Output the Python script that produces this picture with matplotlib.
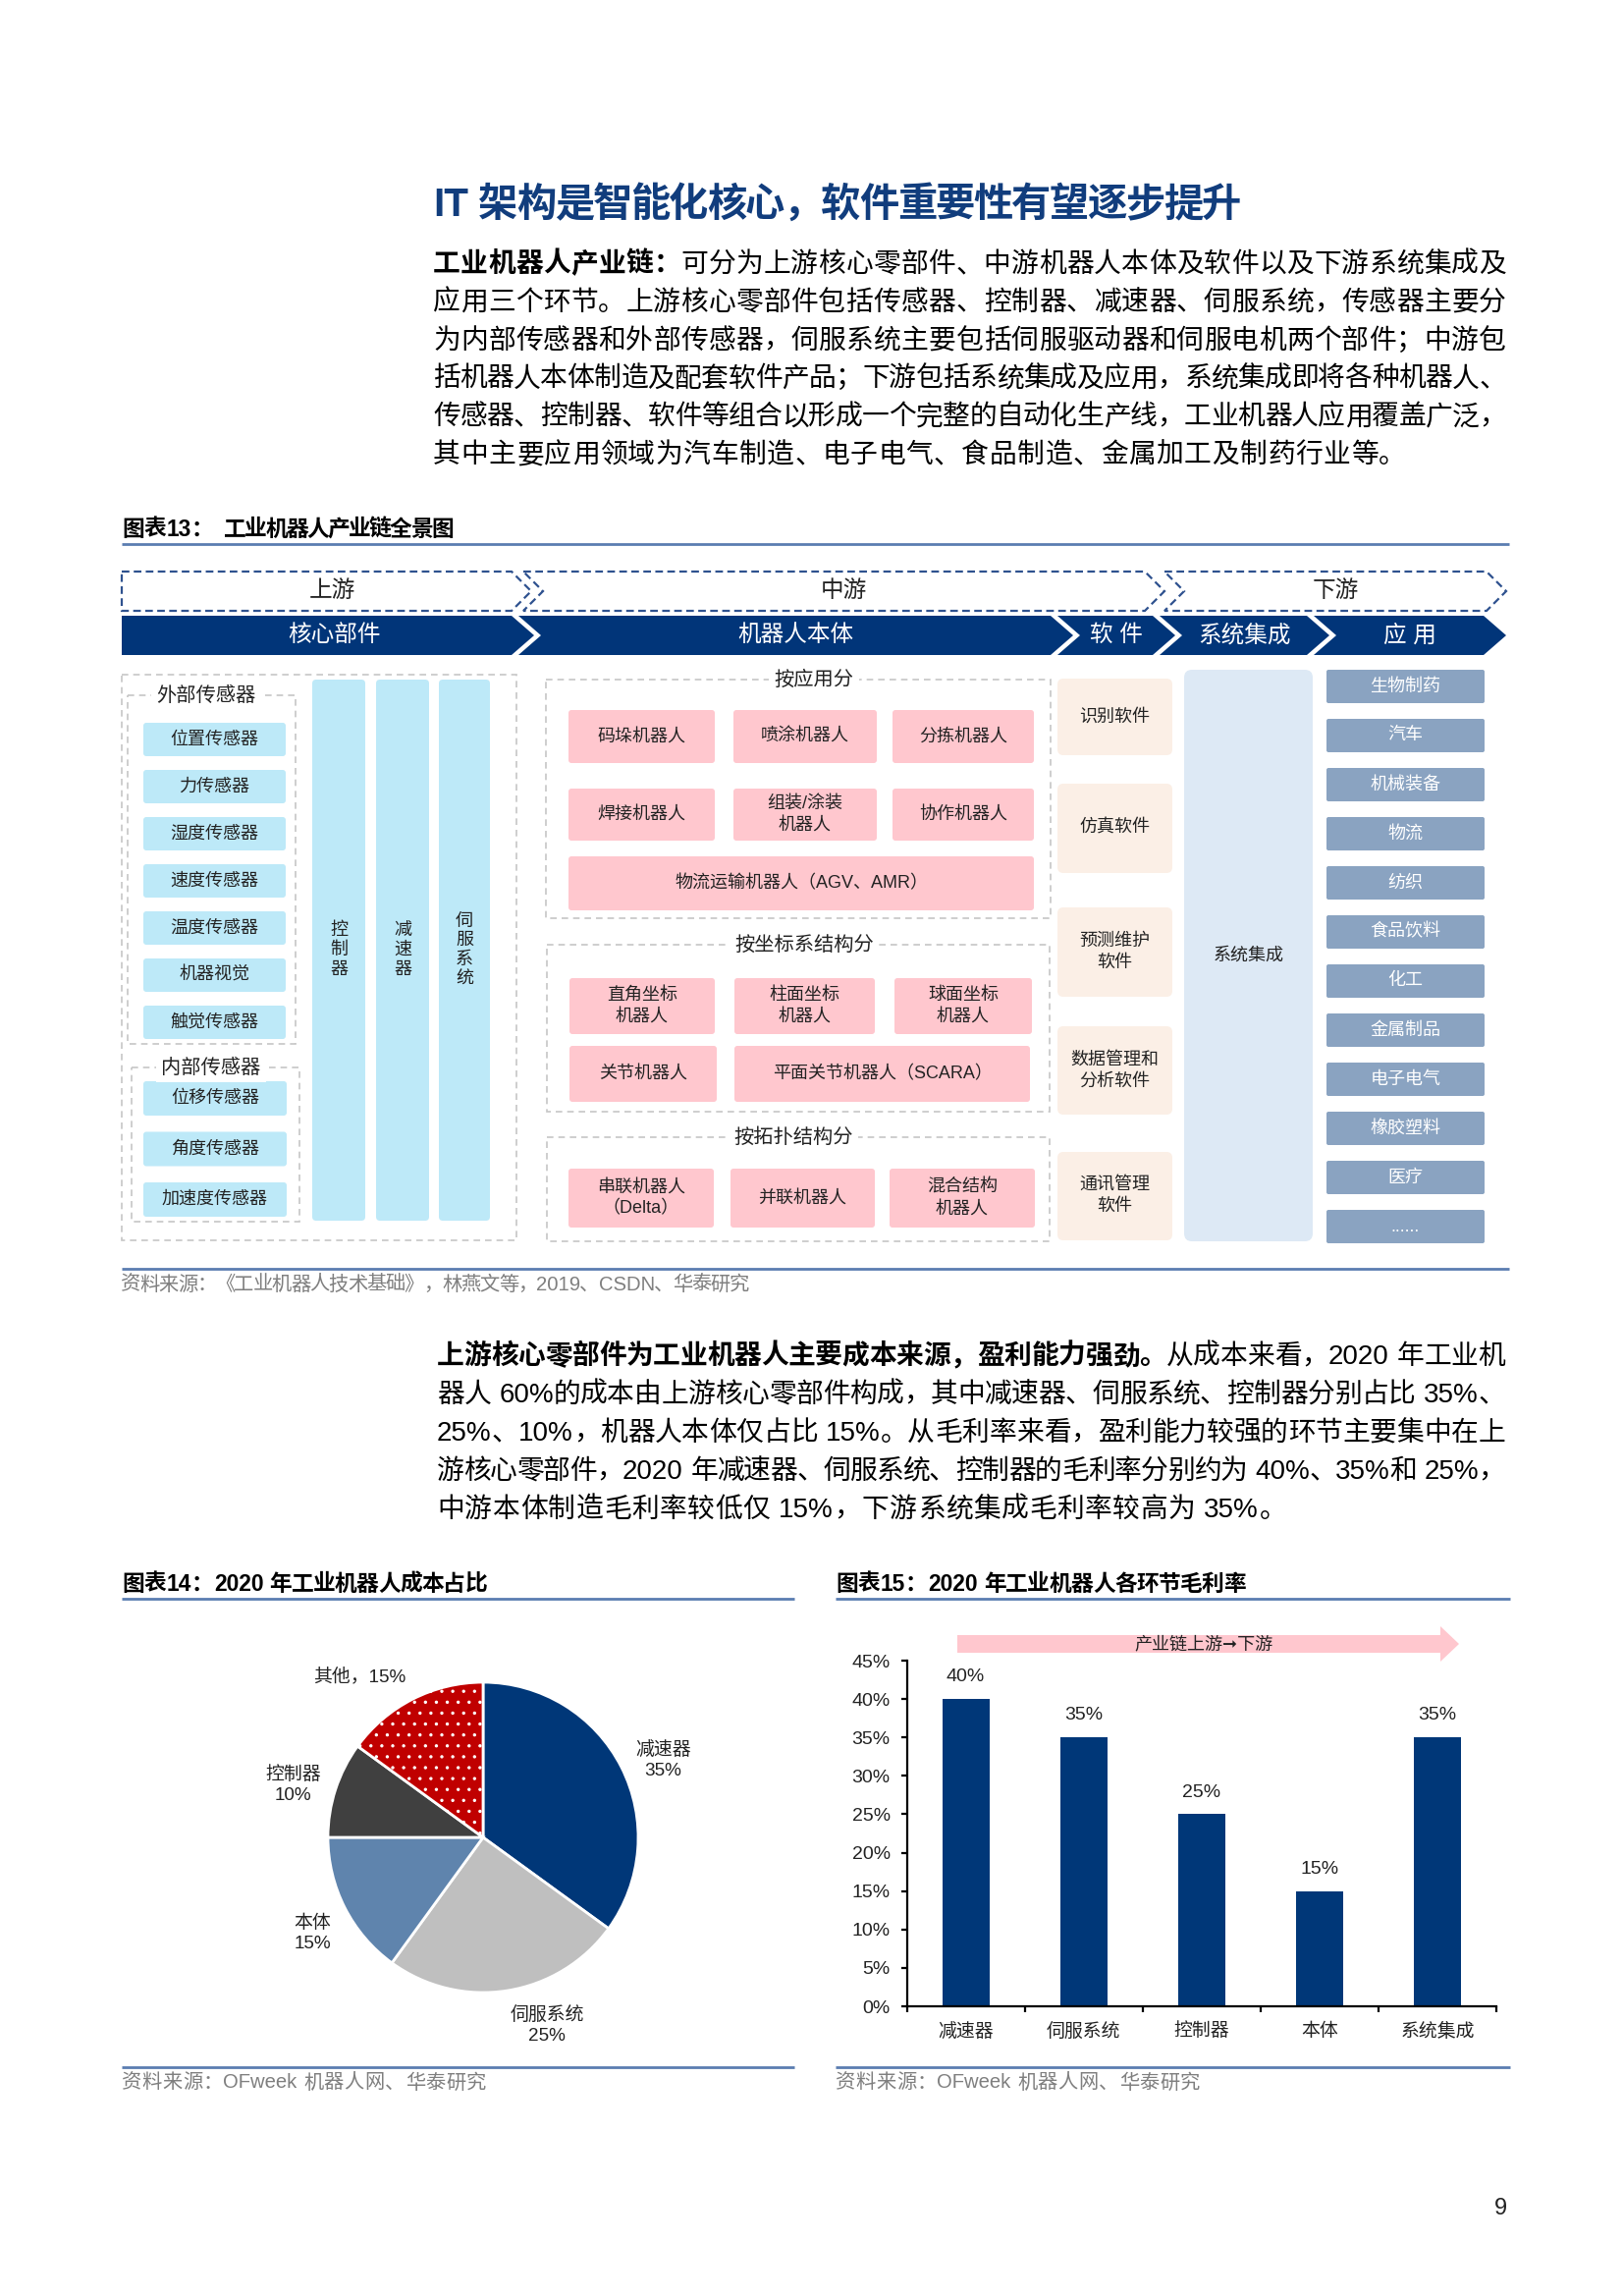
"""Page 9 of the robot-industry report: value-chain diagram, cost pie, gross-margin bars."""
import matplotlib
matplotlib.use("Agg")
import matplotlib.pyplot as plt
from matplotlib.patches import Polygon, FancyBboxPatch, Rectangle
import numpy as np

plt.rcParams["font.family"] = ["Liberation Sans", "Noto Sans CJK SC", "DejaVu Sans"]
plt.rcParams["hatch.linewidth"] = 0.4

# ---------------- data ----------------
STAGES = ["上游", "中游", "下游"]
SEGMENTS = ["核心部件", "机器人本体", "软件", "系统集成", "应用"]
EXT_SENSORS = ["位置传感器", "力传感器", "湿度传感器", "速度传感器", "温度传感器", "机器视觉", "触觉传感器"]
INT_SENSORS = ["位移传感器", "角度传感器", "加速度传感器"]
CORE_PARTS = ["控制器", "减速器", "伺服系统"]
BY_APP = ["码垛机器人", "喷涂机器人", "分拣机器人", "焊接机器人", "组装/涂装\n机器人", "协作机器人",
          "物流运输机器人（AGV、AMR）"]
BY_COORD = ["直角坐标\n机器人", "柱面坐标\n机器人", "球面坐标\n机器人", "关节机器人", "平面关节机器人（SCARA）"]
BY_TOPO = ["串联机器人\n（Delta）", "并联机器人", "混合结构\n机器人"]
SOFTWARE = ["识别软件", "仿真软件", "预测维护\n软件", "数据管理和\n分析软件", "通讯管理\n软件"]
APPS = ["生物制药", "汽车", "机械装备", "物流", "纺织", "食品饮料", "化工", "金属制品",
        "电子电气", "橡胶塑料", "医疗", "......"]

PIE_LABELS = ["减速器", "伺服系统", "本体", "控制器", "其他"]
PIE_SHARES = [35, 25, 15, 10, 15]
PIE_COLORS = ["#003778", "#bfbfbf", "#5f84ad", "#404040", "#c00000"]

BAR_CATS = ["减速器", "伺服系统", "控制器", "本体", "系统集成"]
BAR_MARGIN = [40, 35, 25, 15, 35]
Y_TICKS = [0, 5, 10, 15, 20, 25, 30, 35, 40, 45]

TITLE = "IT 架构是智能化核心，软件重要性有望逐步提升"
PARA1 = [
    [("工业机器人产业链：", True), ("可分为上游核心零部件、中游机器人本体及软件以及下游系统集成及", False)],
    [("应用三个环节。上游核心零部件包括传感器、控制器、减速器、伺服系统，传感器主要分", False)],
    [("为内部传感器和外部传感器，伺服系统主要包括伺服驱动器和伺服电机两个部件；中游包", False)],
    [("括机器人本体制造及配套软件产品；下游包括系统集成及应用，系统集成即将各种机器人、", False)],
    [("传感器、控制器、软件等组合以形成一个完整的自动化生产线，工业机器人应用覆盖广泛，", False)],
    [("其中主要应用领域为汽车制造、电子电气、食品制造、金属加工及制药行业等。", False)],
]
PARA2 = [
    [("上游核心零部件为工业机器人主要成本来源，盈利能力强劲。", True), ("从成本来看，2020 年工业机", False)],
    [("器人 60%的成本由上游核心零部件构成，其中减速器、伺服系统、控制器分别占比 35%、", False)],
    [("25%、10%，机器人本体仅占比 15%。从毛利率来看，盈利能力较强的环节主要集中在上", False)],
    [("游核心零部件，2020 年减速器、伺服系统、控制器的毛利率分别约为 40%、35%和 25%，", False)],
    [("中游本体制造毛利率较低仅 15%，下游系统集成毛利率较高为 35%。", False)],
]

NAVY = "#013579"
RULE = "#5b7db1"
GREY_TXT = "#7f7f7f"
DARK = "#222222"

W, H, DPI = 1653, 2338, 200
fig = plt.figure(figsize=(W / DPI, H / DPI), dpi=DPI)
page = fig.add_axes([0, 0, 1, 1])
page.set_xlim(0, W)
page.set_ylim(H, 0)
page.axis("off")
renderer = fig.canvas.get_renderer()


def tokenize(segments):
    out = []
    for s, bold in segments:
        buf, buf_sp, sp = "", False, False
        for ch in s:
            if ch == " ":
                if buf:
                    out.append((buf, bold, buf_sp))
                    buf = ""
                sp = True
            elif ord(ch) > 0x2000:
                if buf:
                    out.append((buf, bold, buf_sp))
                    buf = ""
                out.append((ch, bold, sp))
                sp = False
            else:
                if not buf:
                    buf_sp, sp = sp, False
                buf += ch
        if buf:
            out.append((buf, bold, buf_sp))
    return out


def put_line(segments, x0, x1, y, fs, justify=True, color="black", track=0.0):
    em = fs * DPI / 72
    arts = []
    for t, bold, sp in tokenize(segments):
        a = page.text(x0, y, t, fontsize=fs, fontweight="bold" if bold else "normal",
                      va="center", ha="left", color=color)
        w = em if ord(t[0]) > 0x2000 else a.get_window_extent(renderer).width
        arts.append((a, w, sp))
    spw = em * 0.3
    natural = sum(w for _, w, _ in arts) + sum(spw for _, _, sp in arts if sp)
    if justify and len(arts) > 1:
        extra = (x1 - x0 - natural) / (len(arts) - 1)
    else:
        extra = track * em
    x = x0
    for a, w, sp in arts:
        if sp:
            x += spw
        a.set_x(x)
        x += w + extra


def rule(x0, x1, y, lw=1.0):
    page.plot([x0, x1], [y, y], color=RULE, lw=lw, solid_capstyle="butt")


def box(x0, y0, x1, y1, fc, text="", color=DARK, fs=6.5, r=3, ec="none", lw=0, ls="-",
        weight="normal", ls_text=1.35):
    p = FancyBboxPatch((x0, y0), x1 - x0, y1 - y0, boxstyle=f"round,pad=0,rounding_size={r}",
                       fc=fc, ec=ec, lw=lw, ls=ls)
    page.add_patch(p)
    if text:
        page.text((x0 + x1) / 2, (y0 + y1) / 2, text, ha="center", va="center", fontsize=fs,
                  color=color, linespacing=ls_text, fontweight=weight, multialignment="center")


def container(x0, y0, x1, y1, label=None, lx=None, fs=7.3):
    page.add_patch(Rectangle((x0, y0), x1 - x0, y1 - y0, fc="none", ec="#c6c6c6", lw=0.6,
                             ls=(0, (4, 3))))
    if label:
        page.text(lx, y0, label, ha="center", va="center", fontsize=fs, color=DARK,
                  bbox=dict(fc="white", ec="none", pad=2))


def chevron(x0, x1, y0, y1, d, flat_left=False, **kw):
    ym = (y0 + y1) / 2
    pts = [(x0, y0), (x1, y0), (x1 + d, ym), (x1, y1), (x0, y1)]
    if not flat_left:
        pts.append((x0 + d, ym))
    page.add_patch(Polygon(pts, closed=True, **kw))


# ---------------- header text ----------------
put_line([(TITLE, True)], 441, 1264, 209, 14.5, color="#113d7d")
for i, ln in enumerate(PARA1):
    put_line(ln, 441, 1534, 270 + 38.8 * i, 10, justify=(i < len(PARA1) - 1), track=0.02)

# ---------------- figure 13: value chain diagram ----------------
put_line([("图表13：", True)], 124, 240, 539, 8.2, justify=False)
put_line([("工业机器人产业链全景图", True)], 228, 462, 539, 8.2)
rule(124, 1537, 554)

stage_x = [(124, 521), (533, 1166), (1186, 1514)]
for (x0, x1), name, first in zip(stage_x, STAGES, [True, False, False]):
    chevron(x0, x1, 582, 622, 20, flat_left=first, fc="none", ec="#2f528f", lw=0.8,
            ls=(0, (3.5, 2)))
    page.text((x0 + x1 + 20) / 2 + (6 if first else 0), 602, name, ha="center", va="center",
              fontsize=8.5, color=DARK)

seg_x = [(124, 521), (528, 1070), (1077, 1174), (1181, 1331), (1338, 1511)]
for i, ((x0, x1), name) in enumerate(zip(seg_x, SEGMENTS)):
    chevron(x0, x1, 627, 667, 23, flat_left=(i == 0), fc=NAVY, ec="none")
    cx = (x0 + x1 + 23) / 2 + (6 if i == 0 else 0)
    page.text(cx, 647, " ".join(name) if len(name) <= 2 else name, ha="center", va="center",
              fontsize=8.5, color="white")

# core parts
container(124, 687, 526, 1263)
container(130, 708, 301, 1063, "外部传感器", 210)
container(134, 1087, 305, 1244, "内部传感器", 215)
for i, s in enumerate(EXT_SENSORS):
    box(146, 736 + 48 * i, 291, 770 + 48 * i, "#bde9f8", s)
for i, s in enumerate(INT_SENSORS):
    box(146, 1101 + 51.5 * i, 292, 1136 + 51.5 * i, "#bde9f8", s)
for (x0, x1), s in zip([(318, 372), (383, 437), (447, 499)], CORE_PARTS):
    box(x0, 692, x1, 1243, "#bde9f8", "\n".join(s), r=4, ls_text=1.2)

# robot body
container(556, 692, 1070, 935, "按应用分", 829)
container(557, 962, 1069, 1132, "按坐标系结构分", 819)
container(557, 1158, 1069, 1264, "按拓扑结构分", 808)
PINK = "#ffc7ce"
app_boxes = [(579, 723, 728, 777), (747, 723, 893, 777), (909, 723, 1053, 777),
             (579, 803, 728, 856), (747, 803, 893, 856), (909, 803, 1053, 856),
             (579, 872, 1053, 927)]
for (x0, y0, x1, y1), s in zip(app_boxes, BY_APP):
    box(x0, y0, x1, y1, PINK, s)
coord_boxes = [(580, 996, 728, 1053), (748, 996, 891, 1053), (911, 996, 1051, 1053),
               (580, 1065, 730, 1122), (748, 1065, 1049, 1122)]
for (x0, y0, x1, y1), s in zip(coord_boxes, BY_COORD):
    box(x0, y0, x1, y1, PINK, s)
topo_boxes = [(579, 1190, 727, 1250), (744, 1190, 891, 1250), (906, 1190, 1054, 1250)]
for (x0, y0, x1, y1), s in zip(topo_boxes, BY_TOPO):
    box(x0, y0, x1, y1, PINK, s)

# software
for (y0, y1), s in zip([(691, 769), (798, 889), (924, 1015), (1045, 1135), (1173, 1263)], SOFTWARE):
    box(1077, y0, 1194, y1, "#fbefe6", s, r=6)

# system integration
box(1206, 682, 1337, 1264, "#dde9f5", "系统集成", r=8)

# applications
for i, s in enumerate(APPS):
    box(1351, 682 + 50 * i, 1512, 716 + 50 * i, "#8aa3c1", s, color="white", r=2)

rule(124, 1537, 1292)
put_line([("资料来源：《工业机器人技术基础》，林燕文等，2019、CSDN、华泰研究", False)],
         123, 763, 1308, 7.3, color=GREY_TXT)

# ---------------- second paragraph ----------------
for i, ln in enumerate(PARA2):
    put_line(ln, 445, 1533, 1382 + 38.9 * i, 10, justify=(i < len(PARA2) - 1), track=0.02)

# ---------------- figure 14: cost pie ----------------
put_line([("图表14：", True)], 124, 240, 1613, 8.2, justify=False)
put_line([("2020 年工业机器人成本占比", True)], 218, 496, 1613, 8.2)
rule(124, 809, 1628)

cx, cy, R, S = 492, 1871, 158, 200
ax_pie = fig.add_axes([(cx - S) / W, (H - cy - S) / H, 2 * S / W, 2 * S / H])
wedges, _ = ax_pie.pie(PIE_SHARES, colors=PIE_COLORS, startangle=90, counterclock=False,
                       wedgeprops=dict(edgecolor="white", linewidth=1.0))
wedges[PIE_LABELS.index("其他")].set_hatch("...")
lim = S / R
ax_pie.set_xlim(-lim, lim)
ax_pie.set_ylim(-lim, lim)
for w, name, share in zip(wedges, PIE_LABELS, PIE_SHARES):
    ang = np.deg2rad((w.theta1 + w.theta2) / 2)
    c, s = np.cos(ang), np.sin(ang)
    ha = "left" if c > 0 else "right"
    va = "bottom" if s > 0.7 else ("top" if s < -0.4 else "center")
    txt = f"{name}，{share}%" if name == "其他" else f"{name}\n{share}%"
    ax_pie.text(1.1 * c, 1.1 * s, txt, ha=ha, va=va, fontsize=6.8, color=DARK,
                multialignment="center", linespacing=1.3)

rule(124, 809, 2105)
put_line([("资料来源：OFweek 机器人网、华泰研究", False)], 124, 468, 2121, 7.3, color=GREY_TXT,
         justify=False, track=0.02)

# ---------------- figure 15: gross margin bars ----------------
put_line([("图表15：", True)], 851, 967, 1613, 8.2, justify=False)
put_line([("2020 年工业机器人各环节毛利率", True)], 945, 1269, 1613, 8.2)
rule(851, 1538, 1628)

bx0, bx1, by0, by1 = 923.5, 1524, 1691, 2043
ax_bar = fig.add_axes([bx0 / W, (H - by1) / H, (bx1 - bx0) / W, (by1 - by0) / H])
ax_bar.set_facecolor("none")
xs = np.arange(len(BAR_CATS))
bars = ax_bar.bar(xs, BAR_MARGIN, width=0.4, color="#003778")
ax_bar.bar_label(bars, labels=[f"{v}%" for v in BAR_MARGIN], padding=5, fontsize=7, color=DARK)
ax_bar.set_xlim(-0.5, len(BAR_CATS) - 0.5)
ax_bar.set_ylim(0, max(Y_TICKS))
ax_bar.set_yticks(Y_TICKS)
ax_bar.set_yticklabels([f"{v}%" for v in Y_TICKS], fontsize=7, color=DARK)
ax_bar.set_xticks(np.arange(len(BAR_CATS) + 1) - 0.5)
ax_bar.set_xticklabels([])
ax_bar.set_xticks(xs, minor=True)
ax_bar.set_xticklabels(BAR_CATS, minor=True, fontsize=6.8, color=DARK)
ax_bar.tick_params(axis="x", which="major", direction="out", length=2, width=0.8)
ax_bar.tick_params(axis="x", which="minor", length=0, pad=6)
ax_bar.tick_params(axis="y", direction="out", length=2, width=0.8, pad=4)
for side in ("top", "right"):
    ax_bar.spines[side].set_visible(False)
for side in ("left", "bottom"):
    ax_bar.spines[side].set_linewidth(0.8)

# upstream -> downstream arrow
page.add_patch(Polygon([(975, 1665), (1467, 1665), (1467, 1656), (1486, 1674), (1467, 1692),
                        (1467, 1683), (975, 1683)], closed=True, fc="#ffc7ce", ec="none"))
page.text(1226, 1674, "产业链上游➞下游", ha="center", va="center", fontsize=6.5, color=DARK,
          family=["Noto Sans CJK SC", "DejaVu Sans"])

rule(851, 1538, 2105)
put_line([("资料来源：OFweek 机器人网、华泰研究", False)], 851, 1195, 2121, 7.3, color=GREY_TXT,
         justify=False, track=0.02)

page.text(1528, 2249, "9", ha="center", va="center", fontsize=8.5, color=DARK)

fig.savefig("out.png", dpi=DPI)
